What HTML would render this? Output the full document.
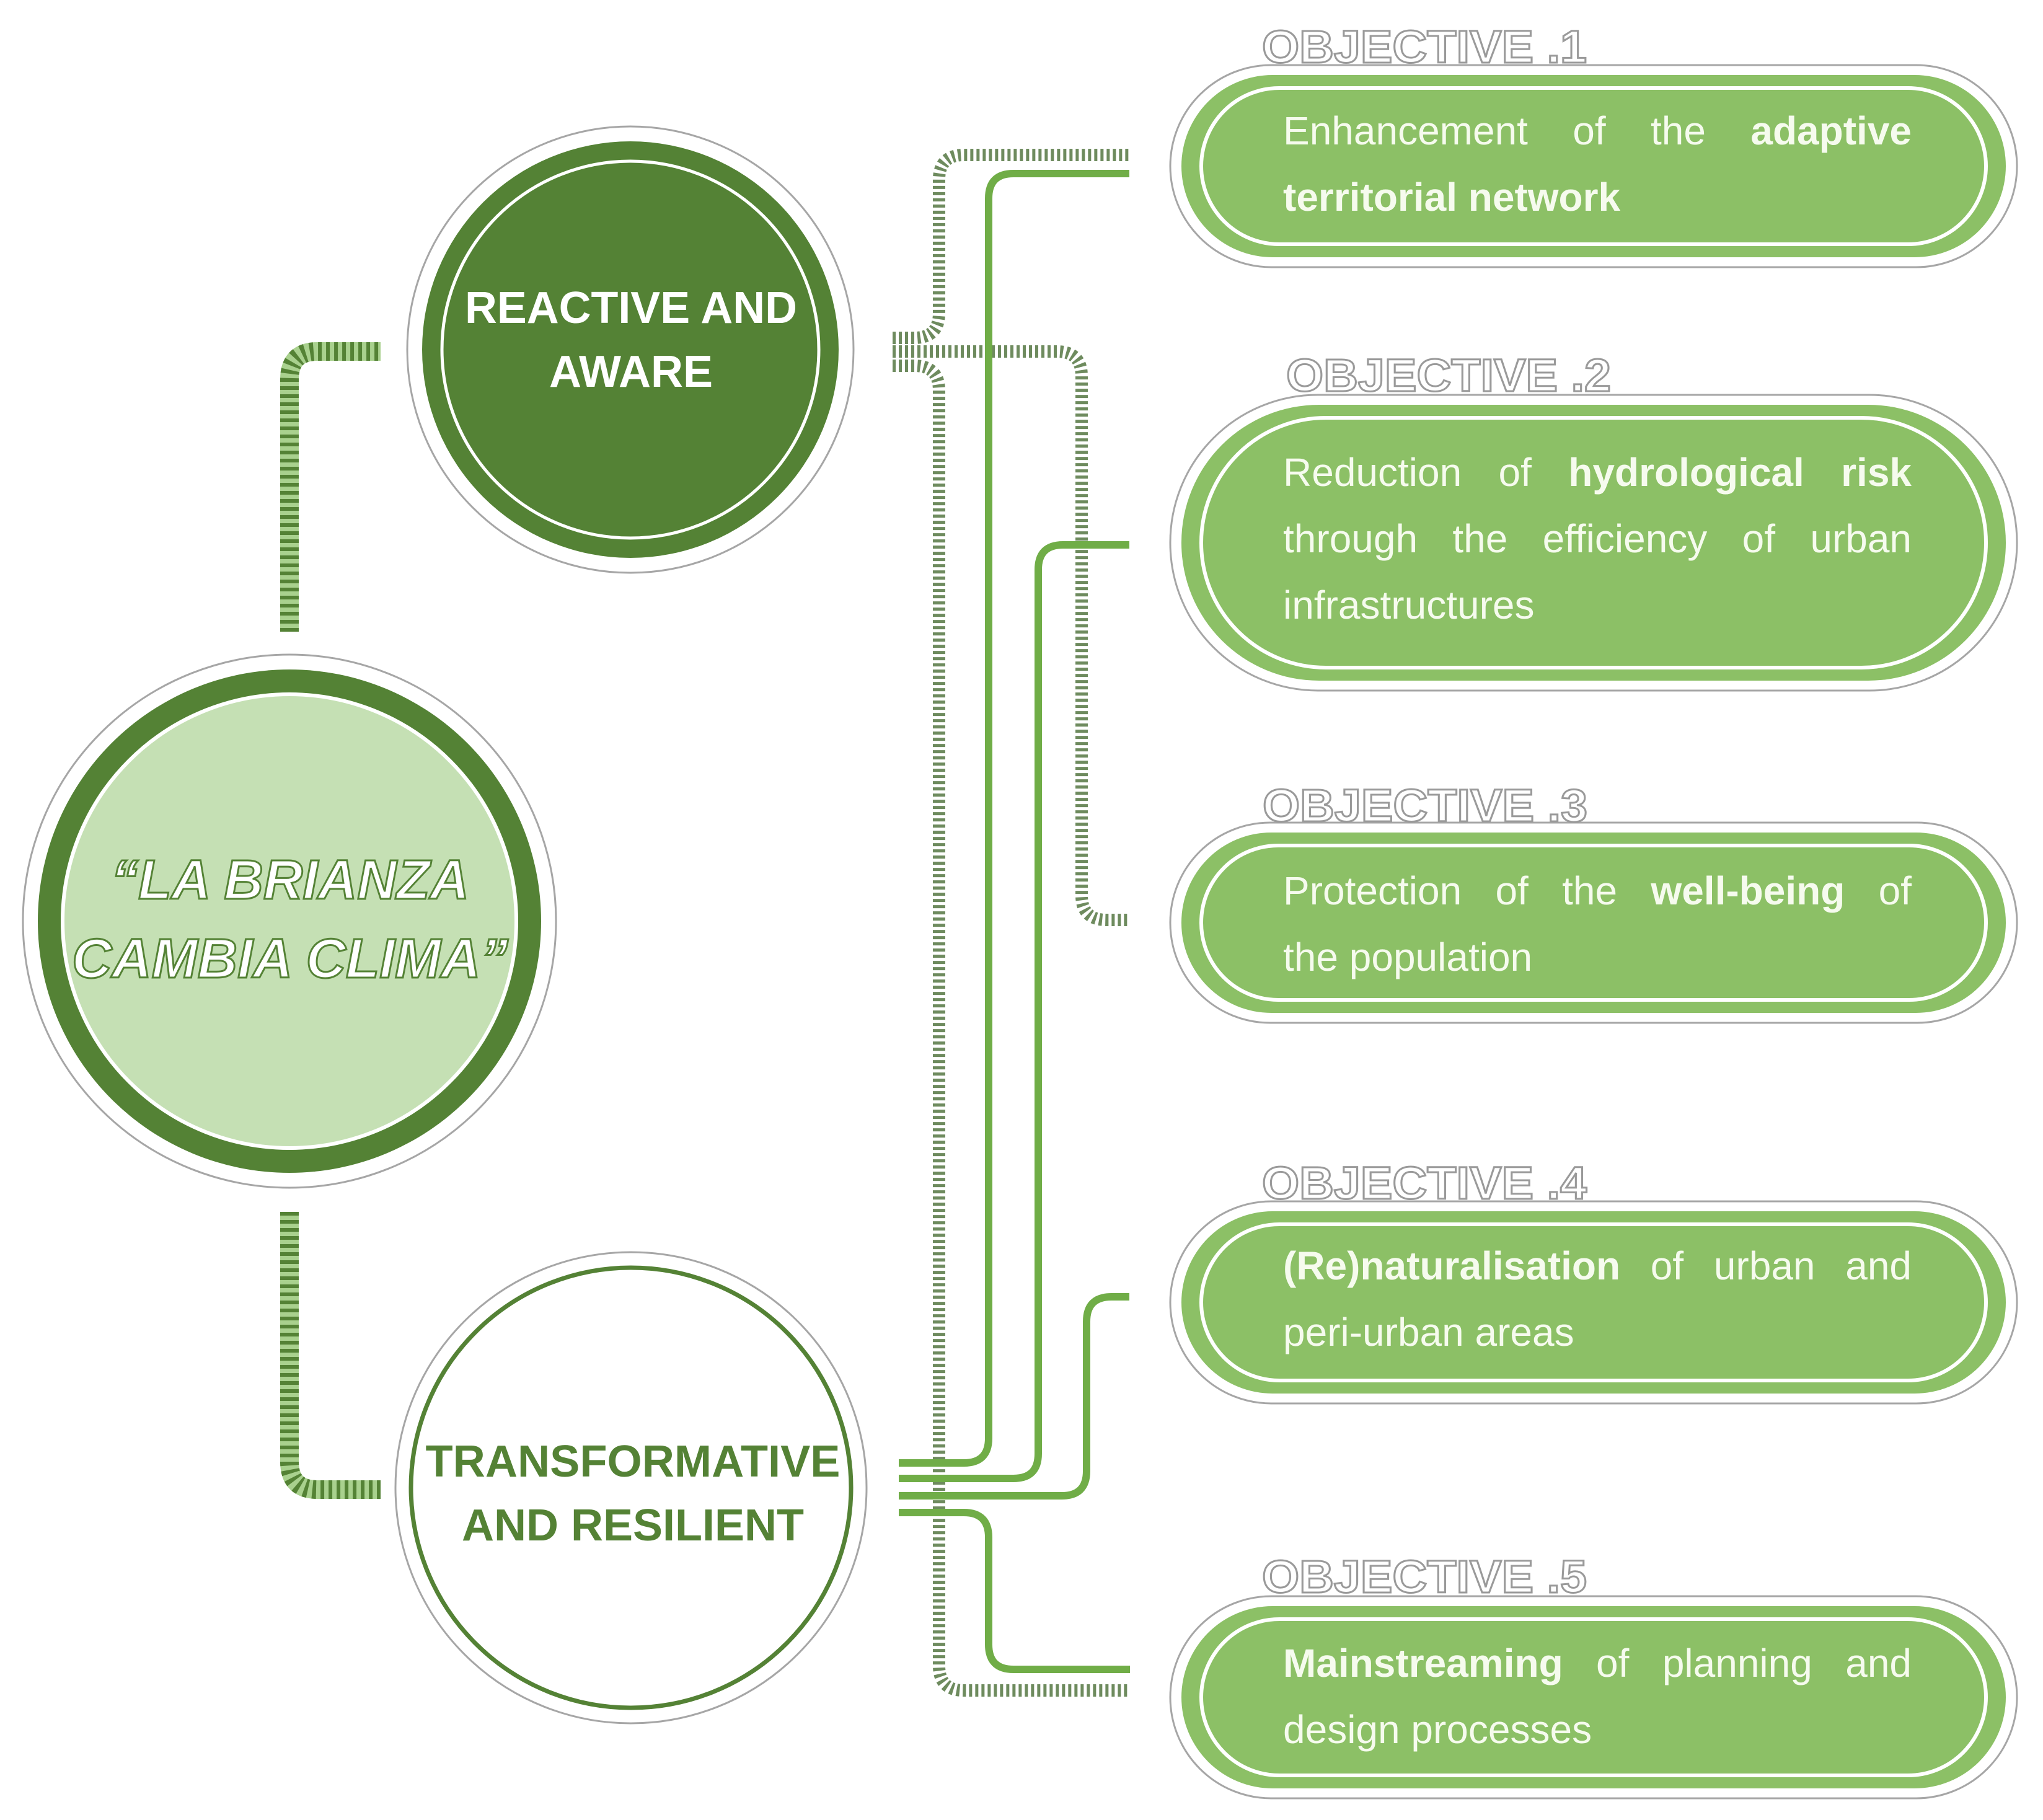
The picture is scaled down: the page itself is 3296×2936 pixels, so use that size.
<!DOCTYPE html>
<html><head><meta charset="utf-8">
<style>
html,body{margin:0;padding:0;background:#fff;}
#c{position:relative;width:3296px;height:2936px;overflow:hidden;font-family:"Liberation Sans",Arial,sans-serif;}
svg{position:absolute;left:0;top:0;}
.t{position:absolute;left:2070px;width:1014px;font-size:64px;line-height:107px;color:#f6fbee;}
.t div{text-align:justify;text-align-last:justify;white-space:nowrap;}
.t div.l{text-align-last:left;}
b{font-weight:bold;}
</style></head><body><div id="c">
<svg width="3296" height="2936" viewBox="0 0 3296 2936" xmlns="http://www.w3.org/2000/svg">
<!-- left hatched connectors -->
<g fill="none" stroke-width="30">
<path d="M467 1019 V612 Q467 567 512 567 H614" stroke="#a9d18e"/>
<path d="M467 1019 V612 Q467 567 512 567 H614" stroke="#548235" stroke-dasharray="6 7"/>
<path d="M467 1955 V2358 Q467 2403 512 2403 H614" stroke="#a9d18e"/>
<path d="M467 1955 V2358 Q467 2403 512 2403 H614" stroke="#548235" stroke-dasharray="6 7"/>
</g>
<!-- right hatched -->
<g fill="none" stroke="#6e8b5e" stroke-width="20" stroke-dasharray="5 5">
<path d="M1440 545 H1475 Q1515 545 1515 505 V290 Q1515 250 1555 250 H1822"/>
<path d="M1440 567 H1705 Q1745 567 1745 607 V1444 Q1745 1484 1785 1484 H1822"/>
<path d="M1440 590 H1475 Q1515 590 1515 630 V2687 Q1515 2727 1555 2727 H1823"/>
</g>
<!-- solid lines -->
<g fill="none" stroke="#70ad47" stroke-width="12">
<path d="M1450 2360 H1555 Q1595 2360 1595 2320 V320 Q1595 280 1635 280 H1822"/>
<path d="M1450 2385 H1635 Q1675 2385 1675 2345 V919 Q1675 879 1715 879 H1822"/>
<path d="M1450 2413 H1713 Q1753 2413 1753 2373 V2132 Q1753 2092 1793 2092 H1822"/>
<path d="M1450 2440 H1555 Q1595 2440 1595 2480 V2653 Q1595 2693 1635 2693 H1823"/>
</g>
<!-- main circle -->
<circle cx="467" cy="1486" r="430" fill="#fff" stroke="#a6a6a6" stroke-width="3"/>
<circle cx="467" cy="1486" r="406" fill="#548235"/>
<circle cx="467" cy="1486" r="366" fill="#c5e0b4" stroke="#fff" stroke-width="6"/>
<g font-family="Liberation Sans,Arial,sans-serif" font-weight="bold" font-style="italic" font-size="90" fill="#fff" stroke="#548235" stroke-width="3" text-anchor="middle">
<text x="468" y="1450" textLength="578" lengthAdjust="spacingAndGlyphs">“LA BRIANZA</text>
<text x="468" y="1577" textLength="704" lengthAdjust="spacingAndGlyphs">CAMBIA CLIMA”</text>
</g>
<!-- reactive circle -->
<circle cx="1017" cy="564" r="360" fill="#fff" stroke="#a6a6a6" stroke-width="3"/>
<circle cx="1017" cy="564" r="336" fill="#548235"/>
<circle cx="1017" cy="564" r="304" fill="none" stroke="#fff" stroke-width="5"/>
<g font-family="Liberation Sans,Arial,sans-serif" font-weight="bold" font-size="72" fill="#fff" text-anchor="middle">
<text x="1018" y="521" textLength="536" lengthAdjust="spacingAndGlyphs">REACTIVE AND</text>
<text x="1018" y="624">AWARE</text>
</g>
<!-- transformative circle -->
<circle cx="1018" cy="2400" r="380" fill="#fff" stroke="#a6a6a6" stroke-width="3"/>
<circle cx="1018" cy="2400" r="355" fill="none" stroke="#548235" stroke-width="7"/>
<g font-family="Liberation Sans,Arial,sans-serif" font-weight="bold" font-size="72" fill="#548235" text-anchor="middle">
<text x="1021" y="2382" textLength="669" lengthAdjust="spacingAndGlyphs">TRANSFORMATIVE</text>
<text x="1021" y="2485">AND RESILIENT</text>
</g>
<!-- pills -->
<g>
<rect x="1888" y="105" width="1366" height="326" rx="163" fill="#fff" stroke="#a6a6a6" stroke-width="3"/>
<rect x="1906" y="121" width="1330" height="294" rx="147" fill="#8cc066"/>
<rect x="1938" y="142" width="1266" height="252" rx="126" fill="none" stroke="#fff" stroke-width="6"/>

<rect x="1888" y="637" width="1366" height="477" rx="238" fill="#fff" stroke="#a6a6a6" stroke-width="3"/>
<rect x="1906" y="653" width="1330" height="445" rx="222" fill="#8cc066"/>
<rect x="1938" y="674" width="1266" height="403" rx="201" fill="none" stroke="#fff" stroke-width="6"/>

<rect x="1888" y="1327" width="1366" height="323" rx="161" fill="#fff" stroke="#a6a6a6" stroke-width="3"/>
<rect x="1906" y="1343" width="1330" height="291" rx="145" fill="#8cc066"/>
<rect x="1938" y="1364" width="1266" height="249" rx="124" fill="none" stroke="#fff" stroke-width="6"/>

<rect x="1888" y="1938" width="1366" height="326" rx="163" fill="#fff" stroke="#a6a6a6" stroke-width="3"/>
<rect x="1906" y="1954" width="1330" height="294" rx="147" fill="#8cc066"/>
<rect x="1938" y="1975" width="1266" height="252" rx="126" fill="none" stroke="#fff" stroke-width="6"/>

<rect x="1888" y="2575" width="1366" height="326" rx="163" fill="#fff" stroke="#a6a6a6" stroke-width="3"/>
<rect x="1906" y="2591" width="1330" height="294" rx="147" fill="#8cc066"/>
<rect x="1938" y="2612" width="1266" height="252" rx="126" fill="none" stroke="#fff" stroke-width="6"/>
</g>
<!-- objective labels -->
<g font-family="Liberation Sans,Arial,sans-serif" font-weight="bold" font-size="74" fill="#fff" stroke="#9a9a9a" stroke-width="3">
<text x="2036" y="101" textLength="524" lengthAdjust="spacingAndGlyphs">OBJECTIVE .1</text>
<text x="2075" y="631" textLength="524" lengthAdjust="spacingAndGlyphs">OBJECTIVE .2</text>
<text x="2037" y="1325" textLength="524" lengthAdjust="spacingAndGlyphs">OBJECTIVE .3</text>
<text x="2036" y="1934" textLength="524" lengthAdjust="spacingAndGlyphs">OBJECTIVE .4</text>
<text x="2036" y="2569" textLength="524" lengthAdjust="spacingAndGlyphs">OBJECTIVE .5</text>
</g>
</svg>
<div class="t" style="top:158px"><div>Enhancement of the <b>adaptive</b></div><div class="l"><b>territorial network</b></div></div>
<div class="t" style="top:709px"><div>Reduction of <b>hydrological risk</b></div><div>through the efficiency of urban</div><div class="l">infrastructures</div></div>
<div class="t" style="top:1384px"><div>Protection of the <b>well-being</b> of</div><div class="l">the population</div></div>
<div class="t" style="top:1989px"><div><b>(Re)naturalisation</b> of urban and</div><div class="l">peri-urban areas</div></div>
<div class="t" style="top:2630px"><div><b>Mainstreaming</b> of planning and</div><div class="l">design processes</div></div>
</div></body></html>
